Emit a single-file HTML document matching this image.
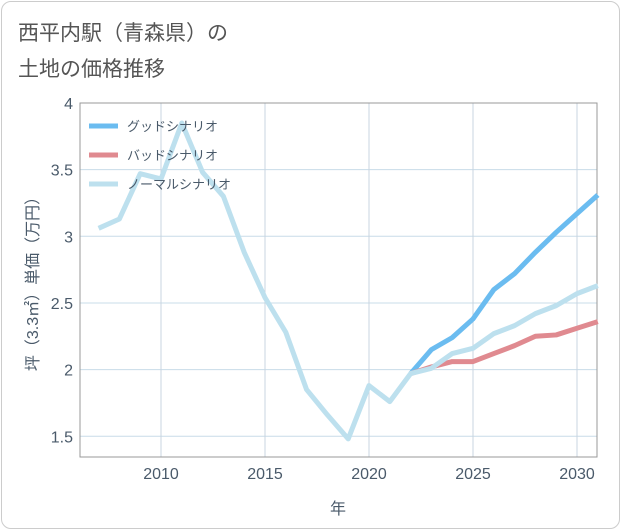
<!DOCTYPE html>
<html><head><meta charset="utf-8"><style>
body{margin:0;background:#fff;font-family:"Liberation Sans","Noto Sans CJK JP",sans-serif}
#card{position:absolute;left:1px;top:1px;width:617px;height:526px;border:1px solid #ccc;border-radius:10px;background:#fff}
</style></head><body>
<div id="card"></div>
<svg id="c" width="621" height="530" style="position:absolute;left:0;top:0" font-family="Liberation Sans, Noto Sans CJK JP, sans-serif">
<text x="18" y="40" font-size="21" fill="#555">西平内駅（青森県）の</text>
<text x="18" y="76" font-size="21" fill="#555">土地の価格推移</text>
<g id="grid"></g><g id="lines"></g><g id="legend"></g>
<text transform="translate(38,280) rotate(-90)" text-anchor="middle" font-size="16" fill="#4a5a6a">坪（3.3㎡）単価（万円）</text>
<text x="338" y="514" text-anchor="middle" font-size="16" fill="#4a5a6a">年</text>
</svg>
<script>
const years=[2007,2008,2009,2010,2011,2012,2013,2014,2015,2016,2017,2018,2019,2020,2021,2022,2023,2024,2025,2026,2027,2028,2029,2030,2031];
const normal=[3.06,3.13,3.47,3.43,3.85,3.48,3.30,2.88,2.54,2.28,1.85,1.66,1.48,1.88,1.76,1.97,2.01,2.12,2.16,2.27,2.33,2.42,2.48,2.57,2.63];
const goodYears=[2022,2023,2024,2025,2026,2027,2028,2029,2030,2031];
const good=[1.97,2.15,2.24,2.38,2.60,2.72,2.88,3.03,3.17,3.31];
const bad=[1.97,2.02,2.06,2.06,2.12,2.18,2.25,2.26,2.31,2.36];
const yTicks=[1.5,2,2.5,3,3.5,4];
const xTicks=[2010,2015,2020,2025,2030];
const L=80,R=597,T=103,B=457;
const X=v=>161+(v-2010)*20.8;
const Y=v=>103+(4-v)*133.3;
const NS="http://www.w3.org/2000/svg";
function mk(p,t,a){const e=document.createElementNS(NS,t);for(const k in a)e.setAttribute(k,a[k]);p.appendChild(e);return e;}
const g=document.getElementById('grid');
yTicks.forEach(v=>{const l=mk(g,'line',{x1:L,x2:R,y1:Y(v),y2:Y(v),stroke:'#c8dce8','stroke-width':1});

const t=mk(g,'text',{x:L-7,y:Y(v)+6,'text-anchor':'end','font-size':16,fill:'#4a5a6a'});t.textContent=String(v);
});
xTicks.forEach(v=>{const l=mk(g,'line',{x1:X(v),x2:X(v),y1:T,y2:B,stroke:'#c8d4e0','stroke-width':1});

const t=mk(g,'text',{x:X(v),y:B+22,'text-anchor':'middle','font-size':16,fill:'#4a5a6a'});t.textContent=String(v);
});
const fr=mk(g,'rect',{x:L,y:T,width:R-L,height:B-T,fill:'none',stroke:'#999','stroke-width':1});

const lg=document.getElementById('lines');
function line(xs,ys,col,name){const p=mk(lg,'polyline',{points:xs.map((x,i)=>X(x)+','+Y(ys[i])).join(' '),fill:'none',stroke:col,'stroke-width':5,'stroke-linejoin':'round'});
}
line(goodYears,good,'#6bbcf0','good-scenario-line');
line(goodYears,bad,'#e08a90','bad-scenario-line');
line(years,normal,'#bde0ee','normal-scenario-line');
const leg=document.getElementById('legend');
[['グッドシナリオ','#6bbcf0'],['バッドシナリオ','#e08a90'],['ノーマルシナリオ','#bde0ee']].forEach((d,i)=>{
const y=126+i*29;
const l=mk(leg,'line',{x1:89,x2:118,y1:y,y2:y,stroke:d[1],'stroke-width':5});

const t=mk(leg,'text',{x:127,y:y+5,'font-size':13,fill:'#4a5a6a'});t.textContent=d[0];
});
</script>
</body></html>
